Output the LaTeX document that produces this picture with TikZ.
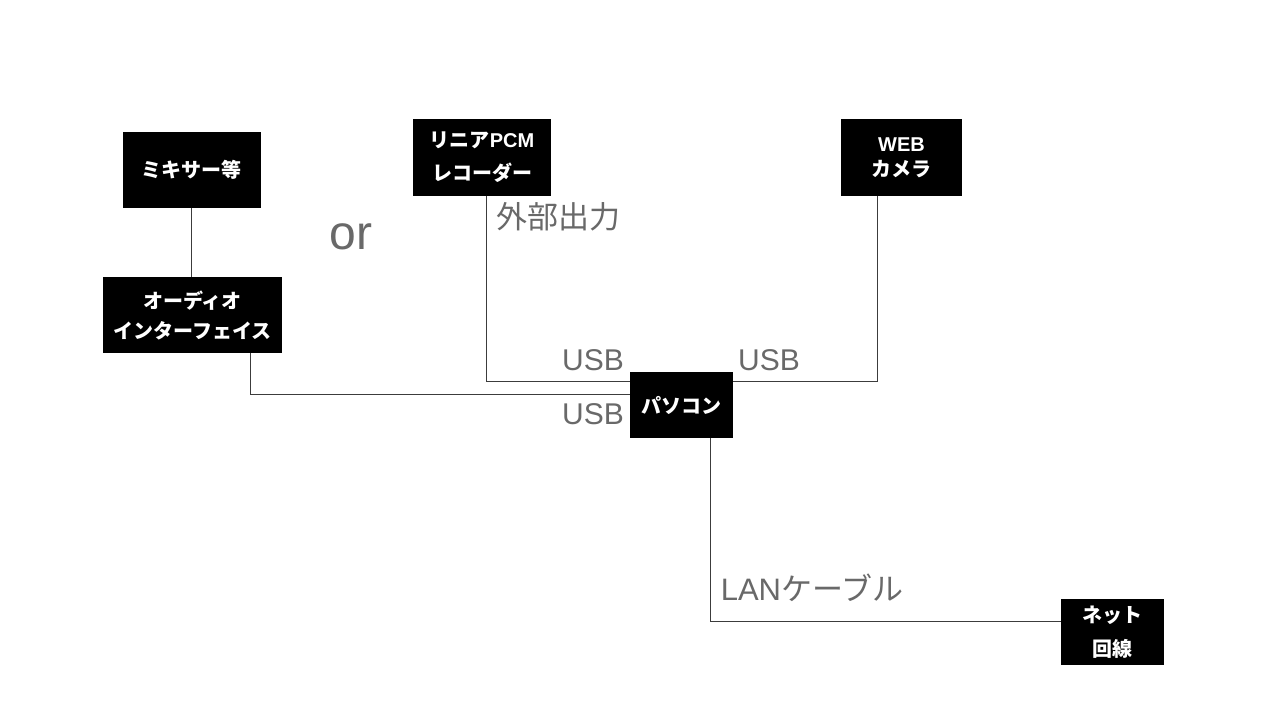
\documentclass[tikz,border=0pt]{standalone}
\usepackage{fontspec}
\setmainfont{Noto Sans CJK JP}
\newfontfamily\latinfont{Liberation Sans}
\definecolor{lblgray}{RGB}{105,105,105}
\definecolor{linegray}{RGB}{60,60,60}
\tikzset{
  devbox/.style={fill=black, text=white, inner sep=0pt, align=center, font=\fontsize{20}{30}\selectfont\bfseries},
  lbl/.style={text=lblgray, inner sep=0pt, font=\fontsize{31}{32}\selectfont},
  conn/.style={draw=linegray, line width=1pt}
}
\begin{document}
\begin{tikzpicture}[x=1pt, y=-1pt]
\useasboundingbox[fill=white] (0,0) rectangle (1280,720);
\node[devbox, minimum width=138pt, minimum height=76pt] (mixer) at (191.5,170) {ミキサー等};
\node[devbox, minimum width=179pt, minimum height=76pt] (audio) at (192.5,315) {オーディオ\\インターフェイス};
\node[devbox, minimum width=138pt, minimum height=77pt, font=\fontsize{20}{33}\selectfont\bfseries] (pcm) at (482,157.5) {リニア{\latinfont\bfseries PCM}\\レコーダー};
\node[devbox, minimum width=121pt, minimum height=77pt, font=\fontsize{20}{25}\selectfont\bfseries] (web) at (901.5,157.5) {{\latinfont\bfseries WEB}\\カメラ};
\node[devbox, minimum width=103pt, minimum height=66pt] (pc) at (681.5,405) {パソコン};
\node[devbox, minimum width=103pt, minimum height=66pt, font=\fontsize{20}{34}\selectfont\bfseries] (net) at (1112.5,632) {ネット\\回線};

\draw[conn] (mixer.south) -- (mixer.south |- audio.north);
\draw[conn] ([xshift=58pt]audio.south) |- ([yshift=11pt]pc.west);
\draw[conn] ([xshift=4pt]pcm.south) |- ([yshift=-10pt]pc.north west);
\draw[conn] ([xshift=-24.5pt]web.south) |- ([yshift=-10pt]pc.north east);
\draw[conn] ([xshift=28.5pt]pc.south) |- ([yshift=11pt]net.west);

\node[lbl, font=\fontsize{30}{32}\latinfont] (usb1) at (593,360) {USB};
\node[lbl, font=\fontsize{30}{32}\latinfont] (usb2) at (769,360) {USB};
\node[lbl, font=\fontsize{30}{32}\latinfont] (usb3) at (593,414) {USB};
\node[lbl] (ext) at (558,217) {外部出力};
\node[lbl, font=\fontsize{48}{50}\selectfont\latinfont] (or) at (351,237) {or};
\node[lbl] (lan) at (812,588) {{\latinfont LAN}ケーブル};
\end{tikzpicture}
\end{document}
